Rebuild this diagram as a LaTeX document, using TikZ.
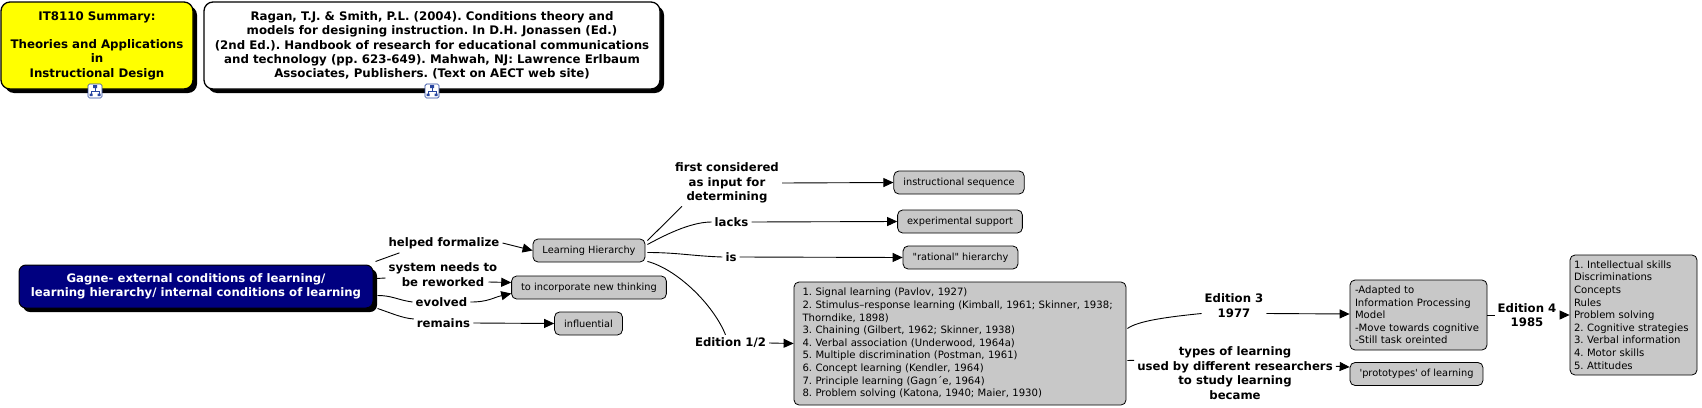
\documentclass[tikz,border=0pt]{standalone}
\usepackage{fontspec}
\setmainfont{DejaVu Sans}
\usepackage{tikz}
\usetikzlibrary{calc, arrows.meta, positioning, shadows}
\definecolor{boxgray}{RGB}{200,200,200}
\definecolor{gagnenavy}{RGB}{0,0,128}
\definecolor{titleyellow}{RGB}{255,255,0}
\definecolor{iconblue}{RGB}{40,70,160}
\frenchspacing
\hyphenpenalty=10000

\begin{document}
\begin{tikzpicture}[x=1pt, y=-1pt,
  lab/.style={font=\bfseries\fontsize{11.7}{14.5}\selectfont, align=center, inner sep=3pt},
  gbox/.style={draw, fill=boxgray, line width=0.8pt, rounded corners=5pt, inner xsep=9.5pt, minimum height=23pt, font=\fontsize{9.8}{11.8}\selectfont},
  lbox/.style={gbox, align=left, font=\fontsize{10.1}{12.6}\selectfont},
  topbox/.style={draw, line width=1.3pt, rounded corners=9pt, align=center, minimum height=87pt, font=\bfseries\fontsize{11.8}{14.2}\selectfont, drop shadow={shadow xshift=4pt, shadow yshift=-4pt, fill=black, opacity=1}},
  iconbox/.style={draw=iconblue, fill=white, line width=0.7pt, rounded corners=1.5pt, minimum size=14pt, inner sep=0pt},
  conn/.style={line width=0.9pt},
  arr/.style={conn, -{Triangle[length=10pt, width=9pt]}}]
\useasboundingbox (0,0) rectangle (1702,407);
\fill[white] (0,0) rectangle (1702,407);

\node[topbox, fill=titleyellow, minimum width=192pt] (title) at (97,45.5) {IT8110 Summary:\\[14.2pt]Theories and Applications\\in\\Instructional Design};
\node[topbox, fill=white, minimum width=456pt] (ragan) at (432,45.5) {Ragan, T.J. \& Smith, P.L. (2004). Conditions theory and\\models for designing instruction. In D.H. Jonassen (Ed.)\\(2nd Ed.). Handbook of research for educational communications\\and technology (pp. 623-649). Mahwah, NJ: Lawrence Erlbaum\\Associates, Publishers. (Text on AECT web site)};
\foreach \ic/\px in {titleicon/95, raganicon/432} {
  \node[iconbox] (\ic) at (\px,91) {};
  \draw[iconblue, line width=0.6pt] (\px,87) -- (\px,91) (\px-4,91) -- (\px+4,91) (\px-4,91) -- (\px-4,94) (\px+4,91) -- (\px+4,94);
  \fill[iconblue] (\px-2,85) rectangle (\px+2,88) (\px-5.5,93.5) rectangle (\px-2.5,96) (\px+2.5,93.5) rectangle (\px+5.5,96);
}

\node[lab, draw=black, fill=gagnenavy, text=white, line width=1pt, rounded corners=7pt, minimum width=354pt, minimum height=43pt, drop shadow={shadow xshift=4pt, shadow yshift=-4pt, fill=black, opacity=1}] (gagne) at (196,286.5) {Gagne- external conditions of learning/\\learning hierarchy/ internal conditions of learning};

\node[lab] (formalize) at (444,243) {helped formalize};
\node[lab] (rework) at (443,274.5) {system needs to\\be reworked};
\node[lab] (evolved) at (441.5,302) {evolved};
\node[lab] (remains) at (443.5,323) {remains};
\node[gbox] (hier) at (589,250.5) {Learning Hierarchy};
\node[gbox] (incorp) at (589,287.5) {to incorporate new thinking};
\node[gbox] (infl) at (588.5,323.5) {influential};

\node[lab] (firstcons) at (727,183) {first considered\\as input for\\determining};
\node[lab] (lacks) at (731.5,222) {lacks};
\node[lab] (isl) at (731,257) {is};
\node[lab] (edonetwo) at (730.5,343) {Edition 1/2};
\node[gbox] (seq) at (959,182.5) {instructional sequence};
\node[gbox] (support) at (960,221.5) {experimental support};
\node[gbox] (rational) at (960.5,257.5) {\textquotedbl rational\textquotedbl{} hierarchy};

\node[lbox, text width=315pt, inner xsep=8.5pt, minimum height=123pt] (eightlist) at (960,343.5) {1. Signal learning (Pavlov, 1927)\\2. Stimulus--response learning (Kimball, 1961; Skinner, 1938;\\Thorndike, 1898)\\3. Chaining (Gilbert, 1962; Skinner, 1938)\\4. Verbal association (Underwood, 1964a)\\5. Multiple discrimination (Postman, 1961)\\6. Concept learning (Kendler, 1964)\\7. Principle learning (Gagn´e, 1964)\\8. Problem solving (Katona, 1940; Maier, 1930)};
\node[lab] (edthree) at (1234,305.5) {Edition 3\\1977};
\node[lab] (became) at (1235,373.3) {types of learning\\used by different researchers\\to study learning\\became};
\node[lbox, text width=127pt, inner xsep=5pt, minimum height=70pt] (ipmodel) at (1418.5,315) {-Adapted to\\Information Processing\\Model\\-Move towards cognitive\\-Still task oreinted};
\node[gbox] (proto) at (1416.5,374) {\textquotesingle prototypes\textquotesingle{} of learning};
\node[lab] (edfour) at (1527,315) {Edition 4\\1985};
\node[lbox, text width=119pt, inner xsep=4pt, minimum height=120pt] (fivelist) at (1633.5,315) {1. Intellectual skills\\Discriminations\\Concepts\\Rules\\Problem solving\\2. Cognitive strategies\\3. Verbal information\\4. Motor skills\\5. Attitudes};

\draw[conn] ($(gagne.north east)+(2,-3)$) -- ($(formalize.south west)+(14,1)$);
\draw[arr] (formalize.east) -- (hier.west);
\draw[conn] ($(gagne.east)+(3,-8)$) -- ($(rework.west)+(0,3.5)$);
\draw[arr] ($(rework.east)+(-12,7.5)$) -- ($(incorp.west)+(0,-5)$);
\draw[conn] ($(gagne.east)+(4,9)$) .. controls +(15,0) and +(-15,-2) .. (evolved.west);
\draw[arr] (evolved.east) .. controls +(18,0) and +(-18,4) .. ($(incorp.west)+(0,6)$);
\draw[conn] ($(gagne.south east)+(4,0)$) .. controls +(15,5) and +(-12,-1) .. ($(remains.west)+(0,-4)$);
\draw[arr] (remains.east) -- (infl.west);

\draw[conn] ($(hier.north east)+(2,2)$) -- ($(firstcons.south west)+(10,0)$);
\draw[arr] (firstcons.east) -- (seq.west);
\draw[conn] ($(hier.east)+(2,-6)$) .. controls +(15,-8) and +(-22,0) .. (lacks.west);
\draw[arr] (lacks.east) -- (support.west);
\draw[conn] ($(hier.east)+(2,2)$) .. controls +(30,0) and +(-30,-1) .. (isl.west);
\draw[arr] (isl.east) -- (rational.west);
\draw[conn] ($(hier.south east)+(2,-1)$) .. controls +(30,8) and +(-12,-30) .. ($(edonetwo.north)+(-5,0)$);
\draw[arr] (edonetwo.east) -- (eightlist.west);

\draw[conn] ($(eightlist.east)+(1,-15)$) .. controls +(10,-7) and +(-40,4) .. ($(edthree.west)+(0,8)$);
\draw[arr] ($(edthree.east)+(0,8)$) -- ($(ipmodel.west)+(0,-1)$);
\draw[conn] ($(eightlist.east)+(1,17)$) -- ($(became.west)+(0,-13)$);
\draw[arr] ($(became.east)+(0,-7)$) -- ($(proto.west)+(0,-7)$);
\draw[conn] (ipmodel.east) -- (edfour.west);
\draw[arr] (edfour.east) -- (fivelist.west);
\end{tikzpicture}
\end{document}
